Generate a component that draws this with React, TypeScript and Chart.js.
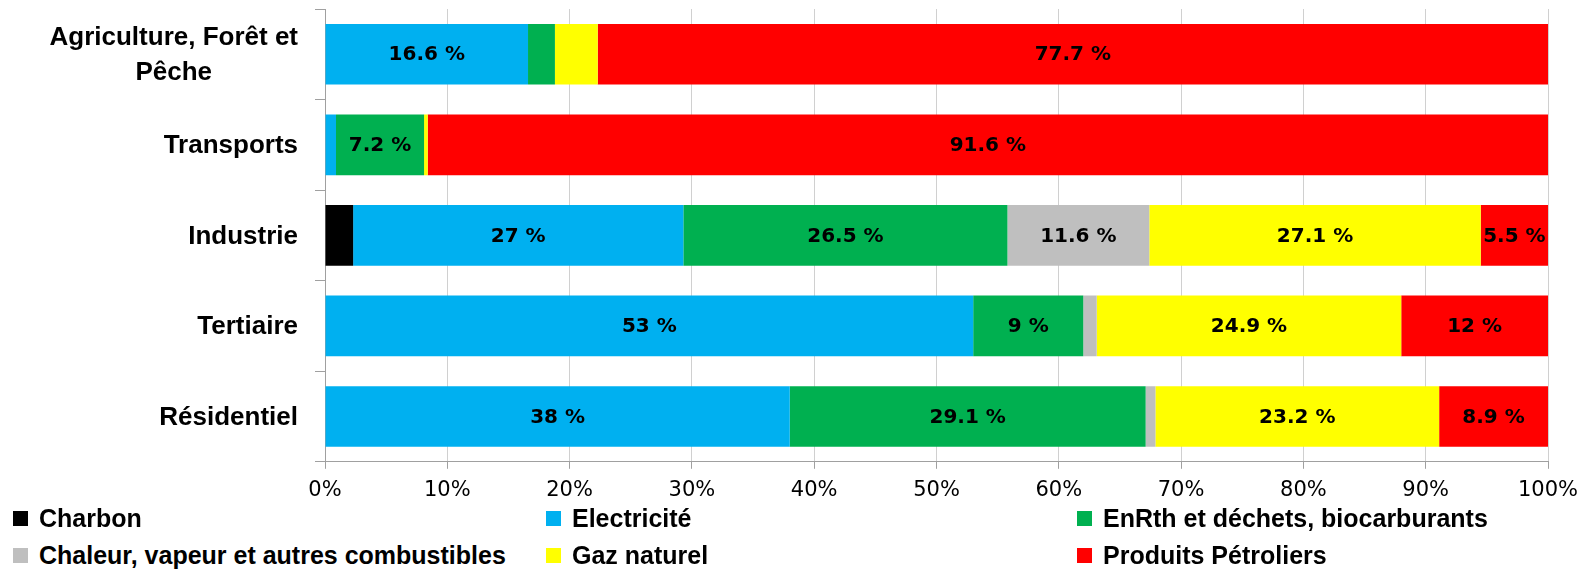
import React, { useEffect, useRef } from "react";
import { Chart, registerables } from "chart.js";
Chart.register(...registerables);

const categories: (string | string[])[] = [
  ["Agriculture, Forêt et", "Pêche"],
  "Transports",
  "Industrie",
  "Tertiaire",
  "Résidentiel",
];
const seriesNames = [
  "Charbon",
  "Electricité",
  "EnRth et déchets, biocarburants",
  "Chaleur, vapeur et autres combustibles",
  "Gaz naturel",
  "Produits Pétroliers",
];
const seriesColors = ["#000000", "#00b0f0", "#00b050", "#bfbfbf", "#ffff00", "#ff0000"];
const charbon = [0, 0, 2.3, 0, 0];
const electricite = [16.6, 0.9, 27, 53, 38];
const enrth = [2.2, 7.2, 26.5, 9, 29.1];
const chaleur = [0, 0, 11.6, 1.1, 0.8];
const gazNaturel = [3.5, 0.3, 27.1, 24.9, 23.2];
const petrole = [77.7, 91.6, 5.5, 12, 8.9];
const seriesValues = [charbon, electricite, enrth, chaleur, gazNaturel, petrole];
const labelThreshold = 5;

const legendOrder = [
  [0, 1, 2],
  [3, 4, 5],
];

const barLabelPlugin = {
  id: "barLabels",
  afterDatasetsDraw(chart: any) {
    const ctx = chart.ctx;
    ctx.save();
    ctx.font = "bold 20px 'DejaVu Sans'";
    ctx.fillStyle = "#000";
    ctx.textAlign = "center";
    ctx.textBaseline = "middle";
    chart.data.datasets.forEach((ds: any, di: number) => {
      const meta = chart.getDatasetMeta(di);
      meta.data.forEach((el: any, i: number) => {
        const v = ds.data[i];
        if (v >= labelThreshold) {
          const c = el.getCenterPoint();
          ctx.fillText(`${v} %`, c.x, c.y + 1);
        }
      });
    });
    ctx.restore();
  },
};

const categoryLabelPlugin = {
  id: "categoryLabels",
  afterDraw(chart: any) {
    const ctx = chart.ctx;
    const y = chart.scales.y;
    ctx.save();
    ctx.font = "bold 26px 'Liberation Sans'";
    ctx.fillStyle = "#000";
    ctx.textBaseline = "middle";
    ctx.textAlign = "center";
    const rightEdge = 298;
    const lineH = 35;
    categories.forEach((lab, i) => {
      const lines = Array.isArray(lab) ? lab : [lab];
      const w = Math.max(...lines.map((l) => ctx.measureText(l).width));
      const cx = rightEdge - w / 2;
      const cy = y.getPixelForValue(i);
      lines.forEach((l, k) => {
        ctx.fillText(l, cx, cy + (k - (lines.length - 1) / 2) * lineH + 1);
      });
    });
    ctx.restore();
  },
};

export default function App() {
  const ref = useRef<HTMLCanvasElement>(null);
  useEffect(() => {
    document.body.style.margin = "0";
    const chart = new Chart(ref.current as HTMLCanvasElement, {
      type: "bar",
      data: {
        labels: categories as any,
        datasets: seriesNames.map((name, i) => ({
          label: name,
          data: seriesValues[i],
          backgroundColor: seriesColors[i],
          borderWidth: 0,
          barPercentage: 0.67,
          categoryPercentage: 1,
        })),
      },
      options: {
        indexAxis: "y",
        responsive: false,
        animation: false,
        devicePixelRatio: 1,
        layout: { padding: { top: 9, right: 38, bottom: 12, left: 0 } },
        plugins: { legend: { display: false }, tooltip: { enabled: false } },
        scales: {
          x: {
            stacked: true,
            min: 0,
            max: 100,
            ticks: {
              stepSize: 10,
              callback: (v: any) => `${v}%`,
              font: { family: "'DejaVu Sans'", size: 21 },
              color: "#000",
              padding: 9,
              maxRotation: 0,
            },
            grid: { color: "#d0d0d0", tickColor: "#a0a0a0", tickLength: 7 },
            border: { color: "#a0a0a0" },
            afterFit: (s: any) => {
              s.paddingRight = 0;
              s.paddingLeft = 0;
            },
          },
          y: {
            stacked: true,
            ticks: { display: false },
            grid: {
              offset: true,
              drawOnChartArea: false,
              tickLength: 10,
              tickColor: "#a0a0a0",
            },
            border: { color: "#a0a0a0" },
            afterFit: (s: any) => {
              s.width = 325;
            },
          },
        },
      },
      plugins: [barLabelPlugin, categoryLabelPlugin],
    });
    return () => chart.destroy();
  }, []);

  const colX = [13, 546, 1077];
  const rowY = [518, 555];
  return (
    <div style={{ position: "relative", width: 1586, height: 569, background: "#fff" }}>
      <canvas ref={ref} width={1586} height={524} style={{ width: 1586, height: 524, display: "block" }} />
      {legendOrder.map((row, r) =>
        row.map((si, c) => (
          <div
            key={si}
            style={{
              position: "absolute",
              left: colX[c],
              top: rowY[r] - 16,
              height: 32,
              display: "flex",
              alignItems: "center",
              whiteSpace: "nowrap",
              fontFamily: "'Liberation Sans', sans-serif",
              fontWeight: "bold",
              fontSize: 25,
              color: "#000",
            }}
          >
            <span
              style={{
                display: "inline-block",
                width: 15,
                height: 15,
                background: seriesColors[si],
                marginRight: 11,
              }}
            />
            <span>{seriesNames[si]}</span>
          </div>
        ))
      )}
    </div>
  );
}
